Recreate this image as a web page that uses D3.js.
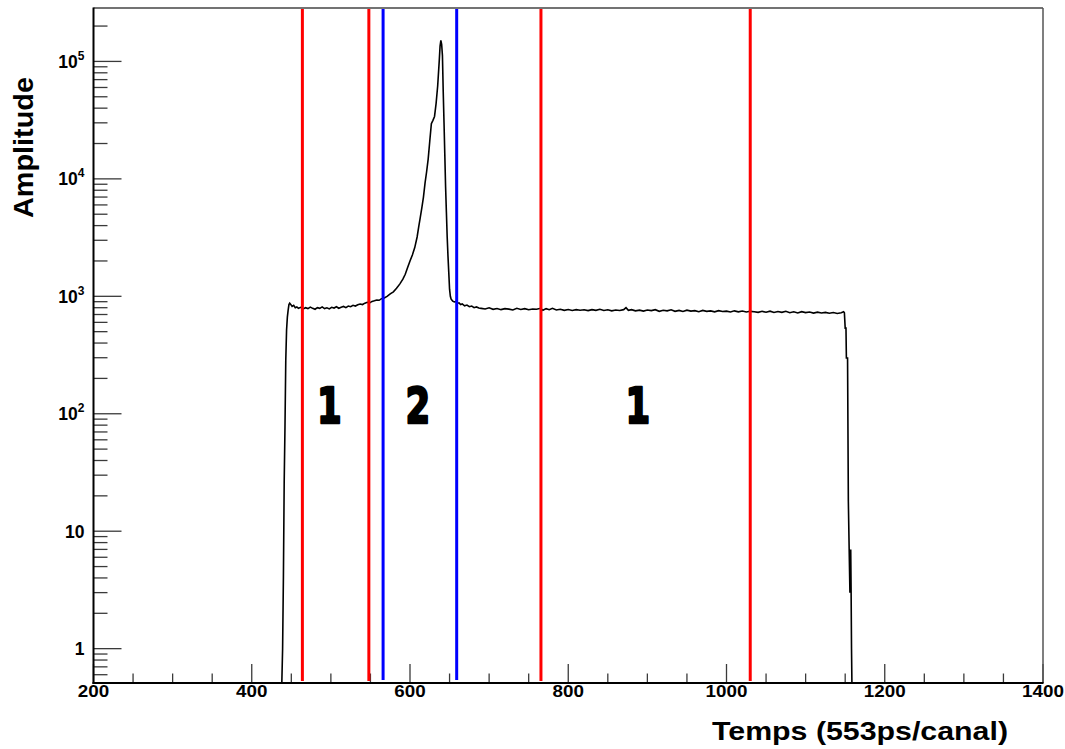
<!DOCTYPE html>
<html><head><meta charset="utf-8">
<script src="https://cdn.jsdelivr.net/npm/d3@7"></script>
<style>html,body{margin:0;padding:0;background:#fff;} svg{display:block}</style>
</head><body>
<svg id="chart" width="1065" height="749"></svg>
<script>
// ---- data: [channel, counts] ----
const spectrumRise = [
  [438,0],[439,1],[440,4],[441,26],[442,77],[443,286],[444,516],[445,665],[446,763],
  [447,850],[448,875],[449,858],[451,822],[453,838],[455,800],[457,812],[459,790],
  [462,805],[465,782],[468,800],[471,786],[474,810],[477,790],[480,776],[483,801],
  [486,790],[489,812],[492,786],[495,798],[498,781],[501,806],[504,795],[507,815],
  [510,791],[513,808],[516,820],[519,801],[522,826],[525,815],[528,838],[531,826],
  [534,846],[537,860],[540,851],[543,875],[546,890],[549,880],[552,905],[555,915],
  [558,930],[561,925],[564,955]
];
const spectrumPeak = [
  [567,962],[571,1000],[575,1050],[579,1092],[583,1170],[587,1270],[591,1400],[594,1540],
  [597,1760],[600,2000],[603,2250],[606,2600],[609,3200],[611,3900],[613,4700],[615,5700],
  [617,7000],[619,9200],[621,11500],[623,14800],[625,21000],[627,29500],[629,31500],
  [631,34000],[633,44000],[635,62000],[637,102000],[638,135000],[639,151000],[640,140000],
  [641,112000],[642,55000],[643,30000],[644,16000],[645,8500],[646,5200],[647,3200],
  [648,2200],[649,1600],[650,1150],[651,1000],[652,945],[654,910],[656,895],[658,905],
  [660,872],[662,880],[664,852],[666,862],[669,830],[672,842],[675,815],[678,826],
  [681,800],[684,812],[687,795]
];
const spectrumPlateau = [
  [690,790],[695,780],[700,798],[705,775],[710,788],[715,770],[720,785],[725,778],
  [730,765],[735,790],[740,772],[745,785],[750,768],[755,780],[760,775],[765,790],
  [768,760],[772,785],[776,770],[780,790],[785,765],[790,775],[795,760],[800,772],
  [805,758],[810,770],[815,762],[820,768],[825,755],[830,770],[835,760],[840,775],
  [845,757],[850,768],[855,752],[860,765],[865,758],[870,770],[873,800],[876,760],
  [880,770],[885,752],[890,762],[895,748],[900,765],[905,755],[910,770],[915,745],
  [920,760],[925,752],[930,768],[935,745],[940,758],[945,742],[950,762],[955,748],
  [960,755],[965,740],[970,758],[975,745],[980,752],[985,738],[990,755],[995,742],
  [1000,748],[1005,735],[1010,752],[1015,738],[1020,750],[1025,735],[1030,745],
  [1035,740],[1040,730],[1045,745],[1050,732],[1055,748],[1060,728],[1065,742],
  [1070,730],[1075,745],[1080,725],[1085,738],[1090,722],[1095,740],[1100,726],
  [1105,735],[1110,720],[1115,733],[1120,722],[1125,730],[1130,718],[1135,728],
  [1140,715],[1145,725],[1148,738]
];
const spectrumFall = [
  [1149,725],[1150,536],[1151,536],[1151.5,298],[1153,298],[1154,18],[1155,7.2],
  [1156,3],[1157,7],[1157.5,3],[1158,1],[1158.5,0],[1160,0]
];

const xTicks = [200, 400, 600, 800, 1000, 1200, 1400];
const yDecades = [1, 10, 100, 1000, 10000, 100000];
const yTickBase = ["1", "10", "10", "10", "10", "10"];
const yTickExp = ["", "", "2", "3", "4", "5"];
const redCuts = [464, 548, 765.5, 1030];
const blueCuts = [566, 659];
const regionLabels = ["1", "2", "1"];
const regionLabelAt = [498, 610, 888];
const regionLabelLevel = 83;

const xTitle = "Temps (553ps/canal)";
const yTitle = "Amplitude";

// ---- layout ----
const L = 93.5, R = 1043, T = 8, B = 683;
const svg = d3.select("#chart");
const x = d3.scaleLinear().domain([200, 1400]).range([L, R]);
const y = d3.scaleLog().domain([0.51, 2.85e5]).range([B, T]);
const FONT = "'Liberation Sans', Arial, Helvetica, sans-serif";

svg.append("rect").attr("width", 1065).attr("height", 749).attr("fill", "#fff");

// minor ticks
const xMinor = d3.range(200, 1401, 50).filter(v => xTicks.indexOf(v) < 0);
const tickG = svg.append("g").attr("stroke", "#3a3a3a").attr("stroke-width", 1.3);
xMinor.forEach(v => tickG.append("line").attr("x1", x(v)).attr("x2", x(v)).attr("y1", B).attr("y2", B - 9.5));
xTicks.forEach(v => tickG.append("line").attr("x1", x(v)).attr("x2", x(v)).attr("y1", B).attr("y2", B - 19));
const yMinor = y.ticks(100).filter(v => yDecades.indexOf(v) < 0 && v >= 0.51 && v <= 2.85e5);
yMinor.forEach(v => tickG.append("line").attr("x1", L).attr("x2", L + 14).attr("y1", y(v)).attr("y2", y(v)));
yDecades.forEach(v => tickG.append("line").attr("x1", L).attr("x2", L + 28).attr("y1", y(v)).attr("y2", y(v)));

// curve
const spectrum = spectrumRise.concat(spectrumPeak, spectrumPlateau, spectrumFall);
svg.append("clipPath").attr("id", "clip").append("rect")
  .attr("x", L).attr("y", T).attr("width", R - L).attr("height", B - T);
const line = d3.line()
  .x(d => x(d[0]))
  .y(d => y(d[1] > 0 ? Math.max(d[1], 0.51) : 0.51));
svg.append("path").datum(spectrum)
  .attr("clip-path", "url(#clip)")
  .attr("fill", "none").attr("stroke", "#000").attr("stroke-width", 1.6)
  .attr("stroke-linejoin", "miter")
  .attr("d", line);

// cut lines
redCuts.forEach(v => svg.append("line").attr("x1", x(v)).attr("x2", x(v))
  .attr("y1", T + 1).attr("y2", B - 2).attr("stroke", "#ff0000").attr("stroke-width", 3));
blueCuts.forEach(v => svg.append("line").attr("x1", x(v)).attr("x2", x(v))
  .attr("y1", T + 1).attr("y2", B - 3).attr("stroke", "#0000ff").attr("stroke-width", 3));

// region labels (condensed heavy digits)
regionLabels.forEach((t, i) => svg.append("text")
  .attr("transform", `translate(${x(regionLabelAt[i])},${y(regionLabelLevel)}) scale(0.74,1.02)`)
  .attr("text-anchor", "middle")
  .attr("font-family", "'DejaVu Sans', sans-serif")
  .attr("font-weight", "bold").attr("font-size", 48)
  .attr("stroke", "#000").attr("stroke-width", 2.4).attr("stroke-linejoin", "round")
  .attr("fill", "#000").text(t));

// frame
svg.append("line").attr("x1", L).attr("x2", R).attr("y1", T).attr("y2", T).attr("stroke", "#444").attr("stroke-width", 1.5);
svg.append("line").attr("x1", R).attr("x2", R).attr("y1", T).attr("y2", B).attr("stroke", "#555").attr("stroke-width", 1.5);
svg.append("line").attr("x1", L).attr("x2", L).attr("y1", T - 0.5).attr("y2", B + 1).attr("stroke", "#000").attr("stroke-width", 2);
svg.append("line").attr("x1", L - 1).attr("x2", R + 0.5).attr("y1", B).attr("y2", B).attr("stroke", "#000").attr("stroke-width", 2);

// x tick labels
xTicks.forEach(v => {
  const t = svg.append("text").attr("x", x(v)).attr("y", B + 14)
    .attr("text-anchor", "middle").attr("font-family", FONT).attr("font-weight", "bold")
    .attr("font-size", 16.5).attr("fill", "#000").text(String(v));
  const w = t.node().getComputedTextLength();
  t.attr("textLength", w * 1.14).attr("lengthAdjust", "spacingAndGlyphs");
});

// y tick labels
yDecades.forEach((v, i) => {
  const t = svg.append("text").attr("x", L - 9).attr("y", y(v) + 6.5)
    .attr("text-anchor", "end").attr("font-family", FONT).attr("font-weight", "bold")
    .attr("font-size", 17.5).attr("fill", "#000");
  t.append("tspan").text(yTickBase[i]);
  if (yTickExp[i]) t.append("tspan").attr("dy", -8).attr("font-size", 12).text(yTickExp[i]);
});

// axis titles
svg.append("text").attr("x", 1008).attr("y", 740).attr("text-anchor", "end")
  .attr("font-family", FONT).attr("font-weight", "bold").attr("font-size", 25)
  .attr("textLength", 296).attr("lengthAdjust", "spacingAndGlyphs")
  .attr("fill", "#000").text(xTitle);
svg.append("text").attr("transform", "translate(33,218) rotate(-90)")
  .attr("text-anchor", "start")
  .attr("font-family", FONT).attr("font-weight", "bold").attr("font-size", 27)
  .attr("textLength", 141).attr("lengthAdjust", "spacingAndGlyphs")
  .attr("fill", "#000").text(yTitle);
</script>
</body></html>
